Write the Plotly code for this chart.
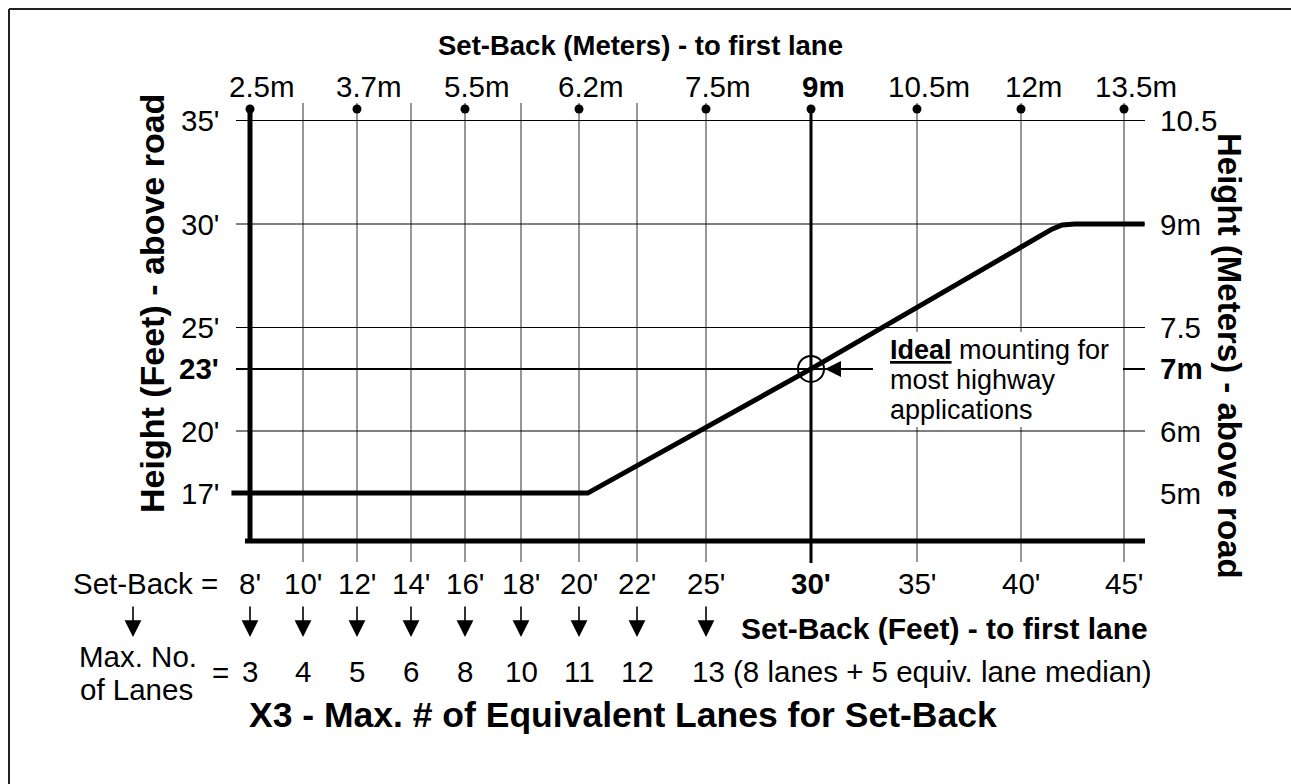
import numpy as np
import plotly.graph_objects as go

W, H = 1291, 784

# ---------------- data ----------------
setback_ft = [8, 10, 12, 14, 16, 18, 20, 22, 25, 30, 35, 40, 45]
setback_ft_labels = ["8'", "10'", "12'", "14'", "16'", "18'", "20'", "22'", "25'",
                     "<b>30'</b>", "35'", "40'", "45'"]
max_lanes = [3, 4, 5, 6, 8, 10, 11, 12, 13]          # for set-backs 8' .. 25'
lanes_note = " (8 lanes + 5 equiv. lane median)"
setback_m_labels = ["2.5m", "3.7m", "5.5m", "6.2m", "7.5m", "<b>9m</b>", "10.5m", "12m", "13.5m"]
setback_m_at_ft = [8, 12, 16, 20, 25, 30, 35, 40, 45]
height_ft = [17, 20, 23, 25, 30, 35]
height_ft_labels = ["17'", "20'", "<b>23'</b>", "25'", "30'", "35'"]
height_m_labels = ["5m", "6m", "<b>7m</b>", "7.5", "9m", "10.5"]
grid_heights_ft = [20, 25, 30, 35]
curve_setback_ft = [7.3, 20.3, 30, 41.5, 42.0, 42.6, 46.0]
curve_height_ft = [17, 17, 23, 29.75, 29.95, 30, 30]
ideal_setback_ft = 30
ideal_height_ft = 23

# ---------------- printed (non-linear) horizontal scale of the nomogram ----------------
setback_axis_pos = [250, 303, 357, 411, 465, 521, 579, 637, 706, 811, 917, 1021, 1124]


def xpos(ft):
    ft = np.atleast_1d(np.asarray(ft, dtype=float))
    xs = np.asarray(setback_ft, float)
    ps = np.asarray(setback_axis_pos, float)
    out = np.interp(ft, xs, ps)
    lo = ft < xs[0]
    hi = ft > xs[-1]
    out[lo] = ps[0] + (ft[lo] - xs[0]) * (ps[1] - ps[0]) / (xs[1] - xs[0])
    out[hi] = ps[-1] + (ft[hi] - xs[-1]) * (ps[-1] - ps[-2]) / (xs[-1] - xs[-2])
    return out


# vertical scale: feet, linear
PX_PER_FT = 20.7
REF_FT, REF_PX = 25.0, 327.5


def ft_at(px):
    return REF_FT - (px - REF_PX) / PX_PER_FT


def py(px):
    return 1 - px / H


FONT = "Liberation Sans, Arial, Helvetica, sans-serif"
FS = 29.5

fig = go.Figure()

# thin vertical grid lines
vx, vy = [], []
for ft, p in zip(setback_ft, xpos(setback_ft)):
    if ft in (8, 30):
        continue
    vx += [p, p, None]
    vy += [ft_at(103), ft_at(562), None]
fig.add_trace(go.Scatter(x=vx, y=vy, mode="lines", line=dict(color="#505050", width=1.2),
                         hoverinfo="skip"))

# horizontal grid lines
hx, hy = [], []
for h in grid_heights_ft:
    hx += [236, 1145, None]
    hy += [h, h, None]
fig.add_trace(go.Scatter(x=hx, y=hy, mode="lines", line=dict(color="black", width=1),
                         hoverinfo="skip"))
# 23' reference line
fig.add_trace(go.Scatter(x=[236, 1145], y=[ideal_height_ft] * 2, mode="lines",
                         line=dict(color="black", width=2), hoverinfo="skip"))

# white box behind the note
fig.add_trace(go.Scatter(x=[873, 1123, 1123, 873, 873],
                         y=[ft_at(332), ft_at(332), ft_at(427), ft_at(427), ft_at(332)],
                         mode="lines", fill="toself", fillcolor="white",
                         line=dict(width=0, color="white"), hoverinfo="skip"))

# heavy axes
x8 = float(xpos(8)[0])
x30 = float(xpos(30)[0])
fig.add_trace(go.Scatter(x=[x8, x8], y=[ft_at(109), ft_at(543)], mode="lines",
                         line=dict(color="black", width=5), hoverinfo="skip"))
fig.add_trace(go.Scatter(x=[x30, x30], y=[ft_at(109), ft_at(563)], mode="lines",
                         line=dict(color="black", width=3), hoverinfo="skip"))
fig.add_trace(go.Scatter(x=[x8 - 5, 1145], y=[ft_at(541)] * 2, mode="lines",
                         line=dict(color="black", width=5), hoverinfo="skip"))

# height curve
fig.add_trace(go.Scatter(x=xpos(curve_setback_ft), y=curve_height_ft, mode="lines",
                         line=dict(color="black", width=5), hoverinfo="skip"))

# top dots
fig.add_trace(go.Scatter(x=xpos(setback_m_at_ft), y=[ft_at(109)] * len(setback_m_at_ft),
                         mode="markers", marker=dict(color="black", size=9), hoverinfo="skip"))

# ideal circle
fig.add_trace(go.Scatter(x=xpos([ideal_setback_ft]), y=[ideal_height_ft], mode="markers",
                         marker=dict(symbol="circle-open", size=26, color="black",
                                     line=dict(width=2, color="black")), hoverinfo="skip"))

ann = []


def text(x, y, t, size=FS, xanchor="center", yref="paper", angle=0, bold=False):
    ann.append(dict(x=x, y=y, xref="x", yref=yref, text=(f"<b>{t}</b>" if bold else t),
                    showarrow=False, xanchor=xanchor, yanchor="middle", textangle=angle,
                    font=dict(family=FONT, size=size, color="black")))


# top (meters) labels
for ft, lab, p in zip(setback_m_at_ft, setback_m_labels, xpos(setback_m_at_ft)):
    text(p + 12, py(86), lab)
text(640, py(45), "Set-Back (Meters) - to first lane", size=27.5, bold=True)

# left (feet) labels
for h, lab in zip(height_ft, height_ft_labels):
    text(221, h, lab, xanchor="right", yref="y")
# right (meters) labels
for h, lab in zip(height_ft, height_m_labels):
    text(1158, h, lab, xanchor="left", yref="y")

text(152, py(304), "Height (Feet) - above road", size=34, angle=-90, bold=True)
text(1230, py(356), "Height (Meters) - above road", size=33, angle=90, bold=True)

# bottom set-back labels
for lab, p in zip(setback_ft_labels, xpos(setback_ft)):
    text(p, py(583), lab)
text(220, py(583), "Set-Back =", xanchor="right")

# down arrows
arrow_x = [133] + list(xpos(setback_ft[:len(max_lanes)]))
for p in arrow_x:
    ann.append(dict(x=p, y=py(637), xref="x", yref="paper", ax=0, ay=-32, text="",
                    showarrow=True, arrowhead=2, arrowsize=2.1, arrowwidth=1.6,
                    arrowcolor="black"))

text(1150, py(628), "Set-Back (Feet) - to first lane", size=30, xanchor="right", bold=True)

# lanes row
text(138, py(656), "Max. No.")
text(136, py(689), "of Lanes")
text(220, py(672), "=")
for n, p in zip(max_lanes[:-1], xpos(setback_ft[:len(max_lanes) - 1])):
    text(p, py(671), str(n))
text(float(xpos(25)[0]) - 16, py(671), f"{max_lanes[-1]}{lanes_note}", xanchor="left")

text(623, py(715), "X3 - Max. # of Equivalent Lanes for Set-Back", size=35.5, bold=True)

# ideal note
NFS = 27
text(888, py(350), "<u><b>Ideal</b></u> mounting for", size=NFS, xanchor="left")
text(888, py(380), "most highway", size=NFS, xanchor="left")
text(888, py(410), "applications", size=NFS, xanchor="left")
ann.append(dict(x=x30, y=ideal_height_ft, xref="x", yref="y", ax=873 - x30, ay=0, text="",
                showarrow=True, arrowhead=2, arrowsize=1.6, arrowwidth=2, standoff=14,
                arrowcolor="black"))

fig.update_layout(
    width=W, height=H, margin=dict(l=0, r=0, t=0, b=0),
    paper_bgcolor="white", plot_bgcolor="white", showlegend=False,
    xaxis=dict(range=[0, W], visible=False, fixedrange=True),
    yaxis=dict(range=[ft_at(H), ft_at(0)], visible=False, fixedrange=True),
    annotations=ann,
    shapes=[
        dict(type="line", xref="paper", yref="paper", x0=9 / W, x1=1, y0=py(9), y1=py(9),
             line=dict(color="#222", width=2)),
        dict(type="line", xref="paper", yref="paper", x0=9 / W, x1=9 / W, y0=py(9), y1=0,
             line=dict(color="#222", width=2)),
    ],
)

fig.write_html("out.html", post_script="document.body.style.margin='0';",
               config={"displayModeBar": False})
